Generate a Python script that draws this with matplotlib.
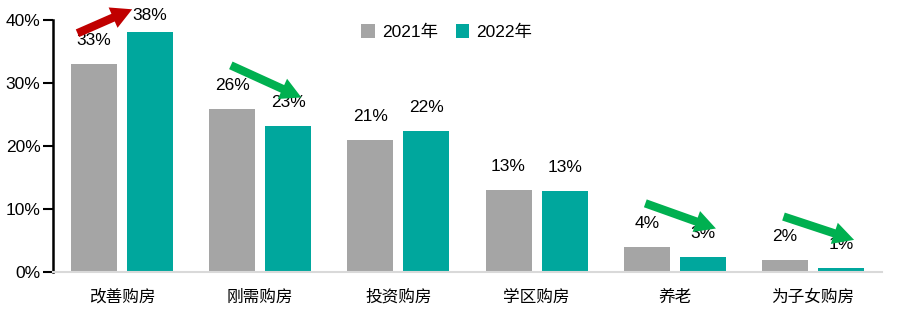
import numpy as np
import matplotlib.pyplot as plt

# data
categories = ["改善购房", "刚需购房", "投资购房", "学区购房", "养老", "为子女购房"]
vals_2021 = [33.0, 25.9, 21.0, 13.0, 4.0, 1.9]
vals_2022 = [38.1, 23.2, 22.4, 12.8, 2.4, 0.6]
labels_2021 = ["33%", "26%", "21%", "13%", "4%", "2%"]
labels_2022 = ["38%", "23%", "22%", "13%", "3%", "1%"]
series_names = ["2021年", "2022年"]
yticks = [0, 10, 20, 30, 40]

# trend arrows: (category index, colour)
arrows = [(0, "#C00000"), (1, "#00B050"), (4, "#00B050"), (5, "#00B050")]

grey = "#A5A5A5"
teal = "#00A79D"
num_font = ["Liberation Sans Narrow", "Liberation Sans", "Noto Sans CJK SC"]

fig = plt.figure(figsize=(8.97, 3.27), dpi=100)
ax = fig.add_axes([53/897, 55/327, 829/897, 252/327])

x = np.arange(len(categories))
w = 0.333
off = 0.203
ax.bar(x - off, vals_2021, w, color=grey, label=series_names[0], zorder=2)
ax.bar(x + off, vals_2022, w, color=teal, label=series_names[1], zorder=2)

# value labels
for i in range(len(categories)):
    ax.annotate(labels_2021[i], (x[i] - off, vals_2021[i]), xytext=(0, 17),
                textcoords="offset points", ha="center", va="center",
                fontsize=12.5, family=num_font, zorder=3)
    dy = 12 if i == 0 else 17
    ax.annotate(labels_2022[i], (x[i] + off, vals_2022[i]), xytext=(0, dy),
                textcoords="offset points", ha="center", va="center",
                fontsize=12.5, family=num_font, zorder=3, annotation_clip=False)

# arrows drawn over the labels, from above grey bar to above teal bar
for i, c in arrows:
    if c == "#C00000":
        start = (x[i] - off - 0.12, vals_2021[i] + 4.9)
        end = (x[i] + off - 0.13, vals_2022[i] + 3.6)
    else:
        start = (x[i] - off - 0.01, vals_2021[i] + 6.9)
        end = (x[i] + off + 0.095, vals_2022[i] + 4.5)
    ax.annotate("", xy=end, xytext=start, zorder=5, annotation_clip=False,
                arrowprops=dict(arrowstyle="simple,head_length=1.5,head_width=1.6,tail_width=0.6",
                                color=c, lw=0, shrinkA=0, shrinkB=0))

ax.set_xlim(-0.5, len(categories) - 0.5)
ax.set_ylim(0, 40)
ax.set_yticks(yticks)
ax.set_yticklabels([f"{t}%" for t in yticks], fontsize=12.5, family=num_font)
ax.set_xticks(x)
ax.set_xticklabels(categories, fontsize=12, family="Noto Sans CJK SC")
ax.tick_params(axis="x", length=0, pad=12)
ax.tick_params(axis="y", length=7, width=1.5, direction="out", pad=2)

for s in ["top", "right"]:
    ax.spines[s].set_visible(False)
ax.spines["left"].set_linewidth(1.8)
ax.spines["bottom"].set_color("#D9D9D9")
ax.spines["bottom"].set_linewidth(1.5)

ax.legend(loc="upper center", bbox_to_anchor=(0.475, 1.045), ncol=2, frameon=False,
          prop={"family": num_font, "size": 12.5}, handlelength=0.8, handleheight=0.8,
          columnspacing=1.0, handletextpad=0.4)

fig.savefig("out.png", dpi=100)
